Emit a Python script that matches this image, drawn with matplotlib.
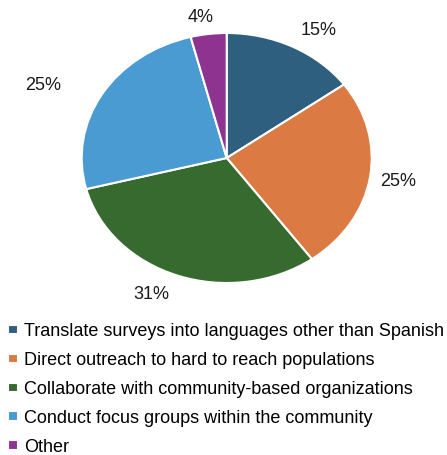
import matplotlib
matplotlib.use("Agg")
import numpy as np
import matplotlib.pyplot as plt

plt.rcParams['font.family'] = ['Liberation Sans', 'DejaVu Sans']

categories = [
    "Translate surveys into languages other than Spanish",
    "Direct outreach to hard to reach populations",
    "Collaborate with community-based organizations",
    "Conduct focus groups within the community",
    "Other",
]
shares = [15, 25, 31, 25, 4]
colors = ["#2E5F7E", "#DB7B43", "#376A2E", "#4A9BD1", "#8E3490"]
# label placement per slice: distance from the centre (pie radii) and angle nudge (deg)
label_dist = [1.2, 1.2, 1.21, 1.39, 1.14]
label_turn = [-5, 0, -5.5, 6, 2]

fig = plt.figure(figsize=(4.47, 4.55), dpi=100)
ax = fig.add_axes([81.7 / 447, (455 - 283) / 455, 290 / 447, 250 / 455])

wedges, texts, autotexts = ax.pie(
    shares, colors=colors, startangle=90, counterclock=False,
    autopct='%d%%', pctdistance=1.2,
    wedgeprops=dict(edgecolor='white', linewidth=1.5),
    textprops=dict(fontsize=13, color='#1a1a1a'),
)
for t, d, turn in zip(autotexts, label_dist, label_turn):
    x, y = t.get_position()
    ang = np.arctan2(y, x) + np.radians(turn)
    t.set_position((d * np.cos(ang), d * np.sin(ang)))
    t.set_clip_on(False)

ax.set_aspect('auto')
ax.set_xlim(-1, 1)
ax.set_ylim(-1, 1)
ax.axis('off')

fig.legend(wedges, categories, loc='upper left', bbox_to_anchor=(8 / 447, 1 - 323 / 455),
           frameon=False, fontsize=13, handlelength=0.55, handleheight=0.45,
           handletextpad=0.35, labelspacing=0.66, borderaxespad=0, borderpad=0)

fig.savefig("out.png", dpi=100)
